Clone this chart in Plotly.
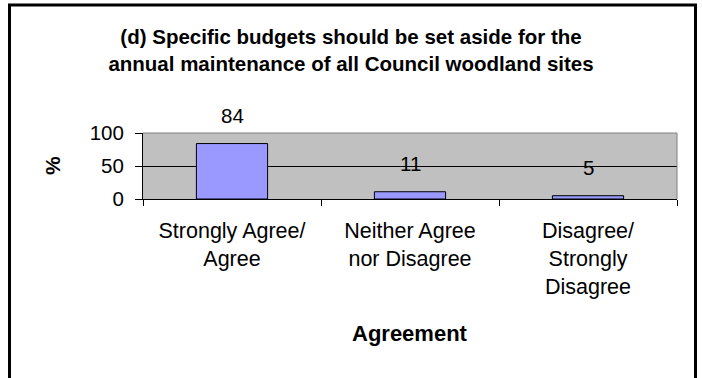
import plotly.graph_objects as go

# Survey response shares (%)
categories = ["Strongly Agree/<br>Agree", "Neither Agree<br>nor Disagree", "Disagree/<br>Strongly<br>Disagree"]
percentages = [84, 11, 5]
y_ticks = [0, 50, 100]

W, H = 702, 378
L, R, T, B = 143, 25, 133, 179
PW, PH = W - L - R, H - T - B

FONT = "Arial, Liberation Sans, sans-serif"


def px_x(px):
    return (px - L) / PW


def px_y(py):
    return (H - B - py) / PH


fig = go.Figure(
    go.Bar(
        x=categories,
        y=percentages,
        marker=dict(color="#9999FF", line=dict(color="black", width=1)),
        width=0.4,
        hoverinfo="skip",
    )
)

# value labels above each bar
for c, v in zip(categories, percentages):
    fig.add_annotation(
        x=c, y=v, text=str(v), showarrow=False, yanchor="middle", yshift=28,
        font=dict(family=FONT, size=20.5, color="black"),
    )

# axis titles
fig.add_annotation(
    xref="paper", yref="paper", x=px_x(410), y=px_y(333), text="<b>Agreement</b>",
    showarrow=False, yanchor="middle", xanchor="center",
    font=dict(family=FONT, size=22, color="black"),
)
fig.add_annotation(
    xref="paper", yref="paper", x=px_x(52), y=0.5, text="<b>%</b>", textangle=-90,
    showarrow=False, yanchor="middle", xanchor="center",
    font=dict(family=FONT, size=21, color="black"),
)

# plot-area frame on the top and right edges
fig.add_shape(type="line", xref="paper", yref="paper", x0=0, x1=1, y0=1, y1=1,
              line=dict(color="#808080", width=1), layer="above")
fig.add_shape(type="line", xref="paper", yref="paper", x0=1, x1=1, y0=0, y1=1,
              line=dict(color="#808080", width=1), layer="above")

# outer chart border
fig.add_shape(type="rect", xref="paper", yref="paper",
              x0=px_x(9.5), x1=px_x(695.5), y0=px_y(395), y1=px_y(5),
              line=dict(color="black", width=3), fillcolor="rgba(0,0,0,0)")

fig.update_layout(
    width=W, height=H,
    margin=dict(l=L, r=R, t=T, b=B),
    paper_bgcolor="white",
    plot_bgcolor="#C0C0C0",
    showlegend=False,
    bargap=0.6,
    title=dict(
        text="<b>(d) Specific budgets should be set aside for the<br>annual maintenance of all Council woodland sites</b>",
        x=0.5, xref="container", xanchor="center",
        y=1 - 44 / H, yref="container", yanchor="middle",
        font=dict(family=FONT, size=20.5, color="black"),
    ),
    xaxis=dict(
        type="category",
        tickson="boundaries",
        ticks="outside", ticklen=6, tickcolor="black",
        showline=True, linecolor="black", linewidth=1,
        showgrid=False,
        tickfont=dict(family=FONT, size=21.5, color="black"),
        ticklabelstandoff=12,
    ),
    yaxis=dict(
        range=[0, 100],
        tickvals=y_ticks,
        ticks="outside", ticklen=7, tickcolor="black",
        showline=True, linecolor="black", linewidth=1,
        showgrid=True, gridcolor="black", gridwidth=1,
        zeroline=False,
        tickfont=dict(family=FONT, size=20.5, color="black"),
        ticklabelstandoff=7,
    ),
)

fig.write_html("out.html")
